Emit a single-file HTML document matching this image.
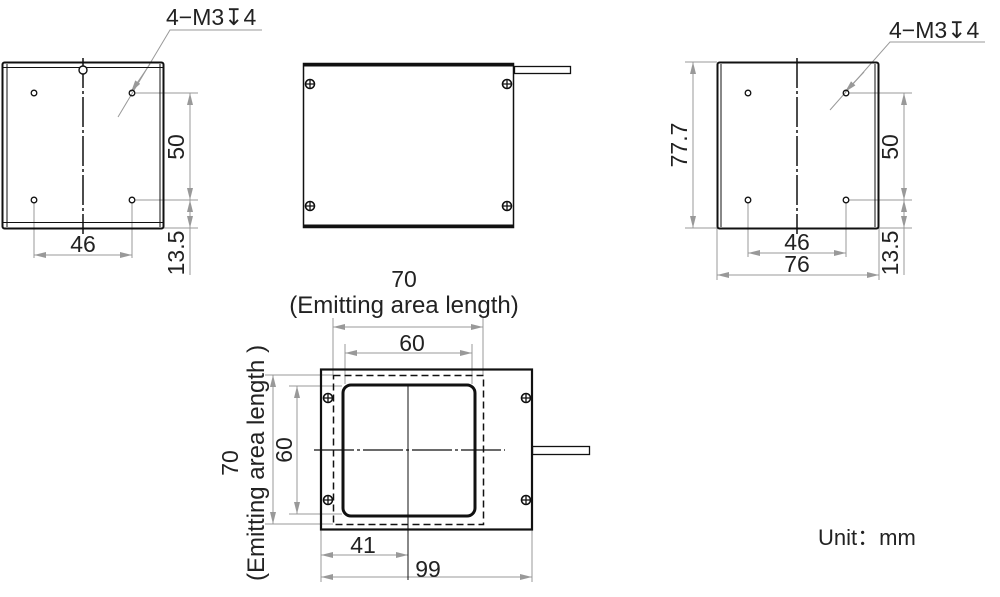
<!DOCTYPE html>
<html><head><meta charset="utf-8"><style>
html,body{margin:0;padding:0;background:#fff}
svg{display:block}
text{font-family:"Liberation Sans","Noto Sans CJK SC",sans-serif;fill:#222}
</style></head><body>
<svg width="1000" height="597" viewBox="0 0 1000 597" xmlns="http://www.w3.org/2000/svg">
<defs>
<marker id="a" viewBox="0 0 12 6" refX="12" refY="3" markerWidth="12" markerHeight="6" orient="auto-start-reverse" markerUnits="userSpaceOnUse"><path d="M0,0 L12,3 L0,6 z" fill="#999"/></marker>
<g id="scr"><circle r="4.5" fill="#fff" stroke="#111" stroke-width="1.6"/><path d="M-4,0H4M0,-4V4" stroke="#111" stroke-width="1.3"/></g>
</defs>
<g fill="none" stroke="#999" stroke-width="1">
<path d="M135,93H198M135,200H198M164,228H198"/>
<line x1="190" y1="93" x2="190" y2="200" marker-start="url(#a)" marker-end="url(#a)"/>
<line x1="190" y1="200" x2="190" y2="228" marker-start="url(#a)" marker-end="url(#a)"/>
<path d="M190,228V275M34,203V258M132,203V258"/>
<line x1="34" y1="255" x2="132" y2="255" marker-start="url(#a)" marker-end="url(#a)"/>
<path d="M118,117L170,30H262"/>
<line x1="150" y1="64" x2="131" y2="92" marker-end="url(#a)"/>
<path d="M849,93H912M849,200H912M879,228H912M685,62H717M685,228H717"/>
<line x1="904" y1="93" x2="904" y2="200" marker-start="url(#a)" marker-end="url(#a)"/>
<line x1="904" y1="200" x2="904" y2="228" marker-start="url(#a)" marker-end="url(#a)"/>
<path d="M904,228V275M748,203V257M846,203V257M717,228V280M879,228V280"/>
<line x1="693" y1="62" x2="693" y2="228" marker-start="url(#a)" marker-end="url(#a)"/>
<line x1="748" y1="253" x2="846" y2="253" marker-start="url(#a)" marker-end="url(#a)"/>
<line x1="717" y1="275" x2="879" y2="275" marker-start="url(#a)" marker-end="url(#a)"/>
<path d="M830,110L890,42H985"/>
<line x1="864" y1="72" x2="845" y2="92" marker-end="url(#a)"/>
<path d="M333,318V375M483,318V375M345,344V384M472,344V384"/>
<line x1="333" y1="327" x2="483" y2="327" marker-start="url(#a)" marker-end="url(#a)"/>
<line x1="345" y1="353" x2="472" y2="353" marker-start="url(#a)" marker-end="url(#a)"/>
<path d="M265,375H333M265,524H333M289,386H342M289,514H342"/>
<line x1="273" y1="375" x2="273" y2="524" marker-start="url(#a)" marker-end="url(#a)"/>
<line x1="297" y1="386" x2="297" y2="514" marker-start="url(#a)" marker-end="url(#a)"/>
<path d="M321,530V582M532,530V582"/>
<line x1="321" y1="555" x2="408" y2="555" marker-start="url(#a)" marker-end="url(#a)"/>
<line x1="321" y1="577" x2="532" y2="577" marker-start="url(#a)" marker-end="url(#a)"/>
</g>
<g fill="none" stroke="#111">
<rect x="2.5" y="62.5" width="161" height="166" rx="2" stroke-width="2"/>
<path d="M3,67.5H163M3,222.5H163M7,64V227M160,64V227" stroke-width="1"/>
<path d="M83,58V234" stroke-width="1.5" stroke-dasharray="30,3,3,3"/>
<circle cx="83" cy="70" r="4" fill="#fff" stroke-width="1.4"/>
<g stroke-width="1.3"><circle cx="34" cy="93" r="2.8"/><circle cx="132" cy="93" r="2.8"/><circle cx="34" cy="200" r="2.8"/><circle cx="132" cy="200" r="2.8"/></g>
<rect x="303.5" y="63.5" width="210" height="164" stroke-width="1.5"/>
<path d="M303,65H514M303,226H514" stroke-width="3"/>
<rect x="514.5" y="66.5" width="56" height="7" stroke-width="1.3"/>
<rect x="717.5" y="62.5" width="161" height="166" rx="2" stroke-width="2"/>
<path d="M721,64V227M875,64V227" stroke-width="1"/>
<path d="M797,58V234" stroke-width="1.5" stroke-dasharray="30,3,3,3"/>
<g stroke-width="1.3"><circle cx="748" cy="93" r="2.8"/><circle cx="846" cy="93" r="2.8"/><circle cx="748" cy="200" r="2.8"/><circle cx="846" cy="200" r="2.8"/></g>
<rect x="321" y="369.5" width="211" height="160" stroke-width="2.2"/>
<rect x="333.5" y="375.5" width="150" height="149" stroke-width="1.5" stroke-dasharray="7,4"/>
<rect x="343" y="385" width="132" height="131" rx="8" stroke-width="3"/>
<path d="M408,384V580" stroke-width="1"/>
<path d="M314,450H505" stroke-width="1.2" stroke-dasharray="40,3,3,3"/>
<rect x="532.5" y="446.5" width="57" height="8" stroke-width="1.3"/>
</g>
<use href="#scr" x="310" y="84"/><use href="#scr" x="507" y="84"/><use href="#scr" x="310" y="206"/><use href="#scr" x="507" y="206"/>
<use href="#scr" x="328" y="398"/><use href="#scr" x="526" y="398"/><use href="#scr" x="328" y="500"/><use href="#scr" x="526" y="500"/>
<g font-size="23">
<text x="166" y="25">4−M3↧4</text>
<text x="889" y="38">4−M3↧4</text>
<text x="83" y="252" text-anchor="middle">46</text>
<text transform="translate(184,147) rotate(-90)" text-anchor="middle">50</text>
<text transform="translate(184,253) rotate(-90)" text-anchor="middle">13.5</text>
<text transform="translate(898,147) rotate(-90)" text-anchor="middle">50</text>
<text transform="translate(898,253) rotate(-90)" text-anchor="middle">13.5</text>
<text transform="translate(687,145) rotate(-90)" text-anchor="middle">77.7</text>
<text x="797" y="250" text-anchor="middle">46</text>
<text x="797" y="272" text-anchor="middle">76</text>
<text x="404" y="287" text-anchor="middle">70</text>
<text x="404" y="313" text-anchor="middle" font-size="24">(Emitting area length)</text>
<text x="412" y="351" text-anchor="middle">60</text>
<text transform="translate(292,450) rotate(-90)" text-anchor="middle">60</text>
<text transform="translate(238,463) rotate(-90)" text-anchor="middle">70</text>
<text transform="translate(264,463) rotate(-90)" text-anchor="middle" font-size="24">(Emitting area length )</text>
<text x="363" y="553" text-anchor="middle">41</text>
<text x="428" y="577" text-anchor="middle">99</text>
<text x="818" y="545" font-size="22">Unit：mm</text>
</g>
</svg>
</body></html>
